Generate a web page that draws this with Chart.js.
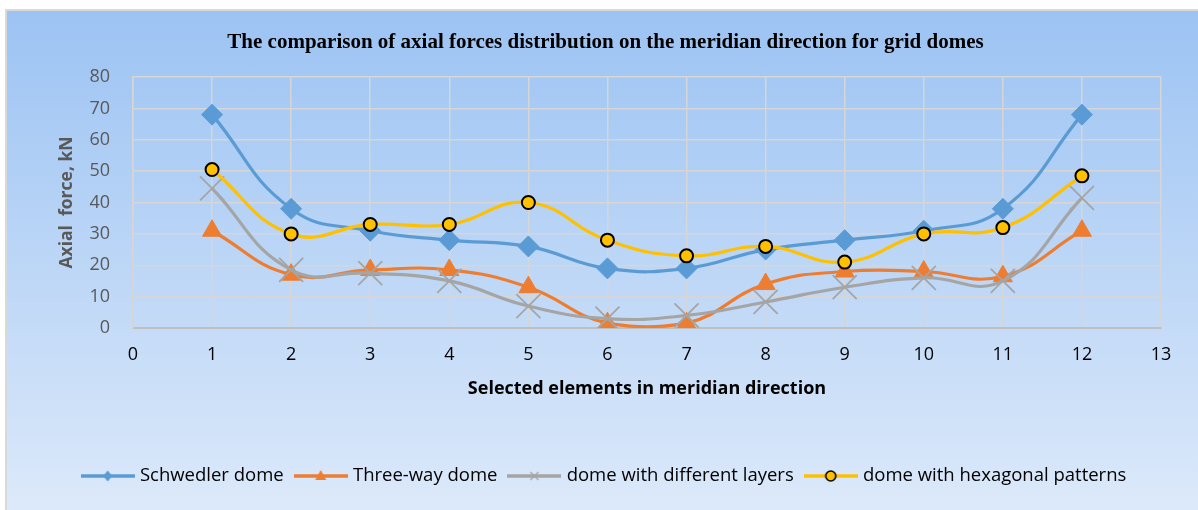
<!DOCTYPE html>
<html><head><meta charset="utf-8">
<script src="https://cdn.jsdelivr.net/npm/chart.js@4/dist/chart.umd.min.js"></script>
<style>
html,body{margin:0;padding:0;background:#fff;}
#wrap{position:relative;width:1198px;height:510px;overflow:hidden;}
#panel{position:absolute;left:5px;top:9px;right:0;bottom:0;border-left:2px solid #d9d9d9;border-top:2px solid #d9d9d9;background:linear-gradient(to bottom,#9cc3f3 0%,#dce9fa 100%);}
canvas{position:absolute;left:0;top:0;}
</style></head><body>
<div id="wrap"><div id="panel"></div><canvas id="c" width="1198" height="510"></canvas></div>
<script>
// ---- data ----
const categories = [1, 2, 3, 4, 5, 6, 7, 8, 9, 10, 11, 12];
const schwedler = [68, 38, 31, 28, 26, 19, 19, 25, 28, 31, 38, 68];
const threeWay = [31, 17, 18.5, 18.5, 13, 1.5, 1.5, 14, 18, 18, 16.5, 31];
const layers = [44.5, 18.5, 17.5, 15, 7, 3, 4, 8.3, 13, 16, 15, 41.5];
const hexagonal = [50.5, 30, 33, 33, 40, 28, 23, 26, 21, 30, 32, 48.5];
const seriesNames = ['Schwedler dome', 'Three-way dome', 'dome with different layers', 'dome with hexagonal patterns'];
const xRange = [0, 13];
const yRange = [0, 80];
const chartTitle = 'The comparison of axial forces distribution on the meridian direction for grid domes';
const xTitle = 'Selected elements in meridian direction';
const yTitle = 'Axial  force, kN';

const colors = ['#5b9bd5', '#ed7d31', '#a5a5a5', '#ffc000'];

function pts(vals) { return categories.map((c, i) => ({x: c, y: vals[i]})); }

function legendImg(idx) {
  const c = document.createElement('canvas');
  c.width = 54; c.height = 20;
  const g = c.getContext('2d');
  const col = colors[idx];
  g.strokeStyle = col; g.lineWidth = 3.5; g.lineCap = 'butt';
  g.beginPath(); g.moveTo(0, 10); g.lineTo(54, 10); g.stroke();
  const cx = 27, cy = 10;
  g.fillStyle = col;
  if (idx === 0) {
    g.beginPath(); g.moveTo(cx, cy - 5.5); g.lineTo(cx + 4.5, cy); g.lineTo(cx, cy + 5.5); g.lineTo(cx - 4.5, cy); g.closePath(); g.fill();
  } else if (idx === 1) {
    g.beginPath(); g.moveTo(cx, cy - 6); g.lineTo(cx + 5.5, cy + 4); g.lineTo(cx - 5.5, cy + 4); g.closePath(); g.fill();
  } else if (idx === 2) {
    g.lineWidth = 1.3;
    g.beginPath(); g.moveTo(cx - 4, cy - 4); g.lineTo(cx + 4, cy + 4); g.moveTo(cx + 4, cy - 4); g.lineTo(cx - 4, cy + 4); g.stroke();
  } else {
    g.beginPath(); g.arc(cx, cy, 5, 0, Math.PI * 2); g.fill();
    g.lineWidth = 1.6; g.strokeStyle = '#000'; g.stroke();
  }
  return c;
}
const legendImgs = [0, 1, 2, 3].map(legendImg);

const datasets = [
  {label: seriesNames[0], data: pts(schwedler), borderColor: colors[0], backgroundColor: colors[0],
   pointStyle: 'rectRot', pointRadius: 10.5, pointBorderWidth: 1, pointBorderColor: colors[0], pointBackgroundColor: colors[0], order: 4},
  {label: seriesNames[1], data: pts(threeWay), borderColor: colors[1], backgroundColor: colors[1],
   pointStyle: 'triangle', pointRadius: 11, pointBorderWidth: 1, pointBorderColor: colors[1], pointBackgroundColor: colors[1], order: 3},
  {label: seriesNames[2], data: pts(layers), borderColor: colors[2], backgroundColor: colors[2],
   pointStyle: 'crossRot', pointRadius: 17, pointBorderWidth: 1.8, pointBorderColor: colors[2], pointBackgroundColor: colors[2], order: 2},
  {label: seriesNames[3], data: pts(hexagonal), borderColor: colors[3], backgroundColor: colors[3],
   pointStyle: 'circle', pointRadius: 6.5, pointBorderWidth: 2, pointBorderColor: '#000', pointBackgroundColor: colors[3], order: 1}
];
datasets.forEach(d => { d.borderWidth = 3.2; d.tension = 0.45; d.fill = false; d.pointHoverRadius = d.pointRadius; });

new Chart(document.getElementById('c'), {
  type: 'line',
  data: {datasets},
  options: {
    responsive: false,
    animation: false,
    layout: {padding: {top: 10, left: 50, right: 37, bottom: 14.75}},
    plugins: {
      tooltip: {enabled: false},
      title: {display: true, text: chartTitle, color: '#000',
        font: {family: 'Liberation Serif', size: 21, weight: 'bold'},
        padding: {top: 20.4, bottom: 21.4}},
      legend: {
        position: 'bottom',
        labels: {
          usePointStyle: true, pointStyleWidth: 46, padding: 14, color: '#000',
          font: {family: 'Open Sans', size: 18.5},
          generateLabels: (chart) => chart.data.datasets.map((d, i) => ({
            text: d.label, fillStyle: d.borderColor, strokeStyle: d.borderColor, lineWidth: 0,
            pointStyle: legendImgs[i], hidden: false, datasetIndex: i, fontColor: '#000'
          }))
        }
      }
    },
    scales: {
      x: {
        type: 'linear', min: xRange[0], max: xRange[1],
        afterFit: s => { s.height = 124.75; },
        ticks: {stepSize: 1, color: '#000', padding: 16, font: {family: 'Open Sans', size: 18}},
        grid: {color: '#d6d6d6', lineWidth: 1.5, drawTicks: false},
        border: {color: '#bfbfbf', width: 2},
        title: {display: true, text: xTitle, color: '#000', font: {family: 'Open Sans', size: 18, weight: 'bold'},
          padding: {top: 0, bottom: 52.95}}
      },
      y: {
        min: yRange[0], max: yRange[1],
        afterFit: s => { s.width = 83; },
        ticks: {stepSize: 10, color: '#595959', padding: 23, font: {family: 'Open Sans', size: 18}},
        grid: {color: '#d6d6d6', lineWidth: 1.5, drawTicks: false},
        border: {color: '#d6d6d6', width: 1.5},
        title: {display: true, text: yTitle, color: '#595959', font: {family: 'Open Sans', size: 17.5, weight: 'bold'},
          padding: {top: 6.5, bottom: 0}}
      }
    }
  }
});
</script>
</body></html>
